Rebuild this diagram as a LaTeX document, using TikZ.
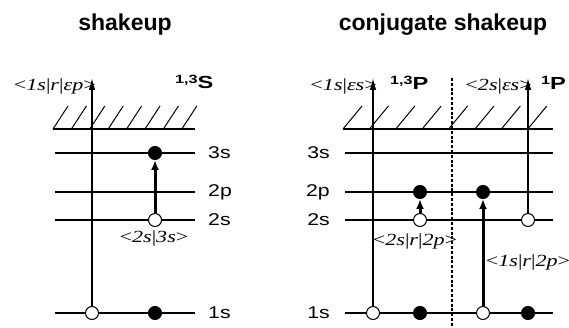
\documentclass[tikz,border=0pt]{standalone}
\usepackage{fontspec}
\setmainfont{Liberation Serif}
\newfontfamily\labfont{Liberation Sans}
\newfontfamily\levfont[FakeStretch=1.25]{Liberation Sans}
\newfontfamily\termfont[FakeStretch=1.35]{Liberation Sans}
\newfontfamily\bkfont[FakeStretch=1.3]{Liberation Serif}
\usetikzlibrary{arrows.meta}
\newcommand{\bk}[1]{{\bkfont\fontsize{17}{19}\selectfont\textless#1\textgreater}}
\newcommand{\trm}[2]{{\termfont\bfseries\raisebox{5.5pt}{\fontsize{12}{13}\selectfont#1}\fontsize{17.5}{19}\selectfont#2}}

\begin{document}
\begin{tikzpicture}[x=1pt,y=-1pt,
  level/.style={line width=1.1pt},
  hatch/.style={line width=1pt},
  axis/.style={line width=1.4pt,-{Latex[length=12pt,width=6.5pt]}},
  jump/.style={line width=3pt,-{Latex[length=10pt,width=8pt]}},
  sep/.style={line width=2.6pt,dash pattern=on 3pt off 1.8pt},
  hole/.style={circle,draw,fill=white,line width=1pt,minimum size=13pt,inner sep=0pt},
  elec/.style={circle,draw,fill=black,line width=1pt,minimum size=13pt,inner sep=0pt},
  lev/.style={font=\levfont\fontsize{17}{19}\selectfont,inner sep=0pt},
  head/.style={font=\labfont\bfseries\fontsize{23}{26}\selectfont,inner sep=0pt,anchor=base},
  term/.style={inner sep=0pt,anchor=base west},
  brak/.style={inner sep=0pt}
]
\useasboundingbox (0,0) rectangle (569,328);

% titles
\node[head] (tshake) at (125,31) {shakeup};
\node[head] (tconj) at (443,31) {conjugate shakeup};

% levels, left panel
\foreach \n/\y in {3s/153,2p/192,2s/220,1s/313}{
  \coordinate (La\n) at (55,\y);
  \coordinate (Lb\n) at (195,\y);
  \draw[level] (La\n) -- (Lb\n);
  \node[lev,anchor=west] (Ll\n) at (208,\y) {\n};
}
% levels, right panel
\foreach \n/\y in {3s/153,2p/192,2s/220,1s/313}{
  \coordinate (Ra\n) at (345,\y);
  \coordinate (Rb\n) at (553,\y);
  \draw[level] (Ra\n) -- (Rb\n);
  \node[lev,anchor=east] (Rl\n) at (330,\y) {\n};
}

% continuum
\coordinate (Lca) at (53,129);
\coordinate (Lcb) at (195,129);
\draw[level] (Lca) -- (Lcb);
\foreach \i in {0,...,7}
  \draw[hatch] (53+\i*18.4,129) -- ++(15,-23);
\coordinate (Rca) at (343,129);
\coordinate (Rcb) at (553,129);
\draw[level] (Rca) -- (Rcb);
\foreach \i in {0,...,7}
  \draw[hatch] (343+\i*26.4,129) -- ++(19,-23);

% separator
\coordinate (sepT) at (452,78);
\coordinate (sepB) at (452,328);
\draw[sep] (sepT) -- (sepB);

% shakeup
\coordinate (Ltop) at (92,78);
\node[hole] (Lh1s) at (92,313) {};
\node[elec] (Le1s) at (155,313) {};
\node[hole] (Lh2s) at (155,220) {};
\node[elec] (Le3s) at (155,153) {};
\draw[axis] (Lh1s) -- (Ltop);
\draw[jump] (Lh2s) -- (Le3s);

% conjugate shakeup
\coordinate (Rtopa) at (373,78);
\coordinate (Rtopb) at (528,78);
\node[hole] (Rh1sa) at (373,313) {};
\node[elec] (Re1sa) at (420,313) {};
\node[hole] (Rh1sb) at (483,313) {};
\node[elec] (Re1sb) at (528,313) {};
\node[hole] (Rh2sa) at (420,220) {};
\node[hole] (Rh2sb) at (528,220) {};
\node[elec] (Re2pa) at (420,192) {};
\node[elec] (Re2pb) at (483,192) {};
\draw[axis] (Rh1sa) -- (Rtopa);
\draw[axis] (Rh2sb) -- (Rtopb);
\draw[jump] (Rh2sa) -- (Re2pa);
\draw[jump] (Rh1sb) -- (Re2pb);

% labels
\node[brak,anchor=base east] (bk1) at (96,91) {\bk{\textit{1s}|\textit{r}|\textit{εp}}};
\node[term] (sym1) at (175,89) {\trm{1,3}{S}};
\node[brak,anchor=base] (bk2) at (154,243) {\bk{\textit{2s}|\textit{3s}}};
\node[brak,anchor=base east] (bk3) at (377,91) {\bk{\textit{1s}|\textit{εs}}};
\node[term] (sym2) at (390,90) {\trm{1,3}{P}};
\node[brak,anchor=base east] (bk4) at (532,91) {\bk{\textit{2s}|\textit{εs}}};
\node[term] (sym3) at (541,90) {\trm{1}{P}};
\node[brak,anchor=base] (bk5) at (415,245) {\bk{\textit{2s}|\textit{r}|\textit{2p}}};
\node[brak,anchor=base] (bk6) at (528,266) {\bk{\textit{1s}|\textit{r}|\textit{2p}}};
\end{tikzpicture}
\end{document}
